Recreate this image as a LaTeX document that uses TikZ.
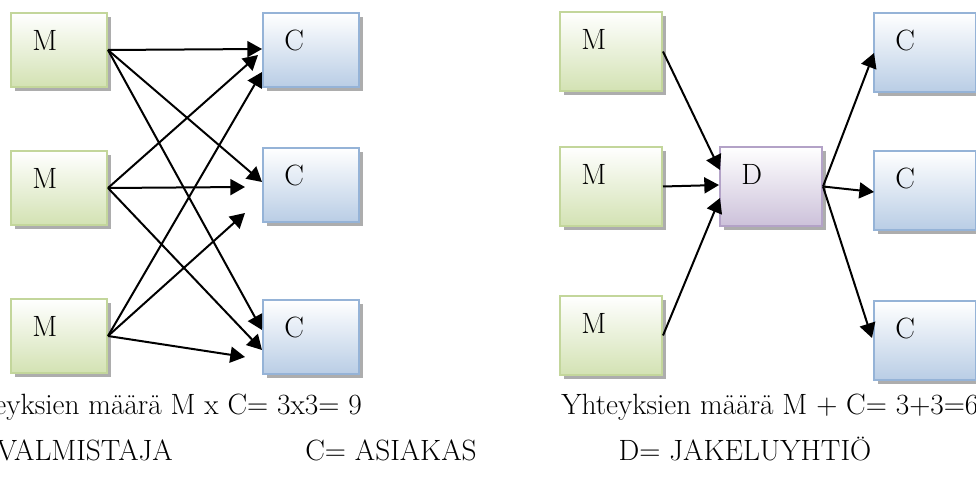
\documentclass[tikz,border=0pt]{standalone}
\usepackage{fontspec}
\usetikzlibrary{shadows,arrows.meta,calc}
\definecolor{grnB}{HTML}{C3D69B}
\definecolor{grnF}{HTML}{D3E2B3}
\definecolor{bluB}{HTML}{95B3D7}
\definecolor{bluF}{HTML}{B9CDE5}
\definecolor{purB}{HTML}{B3A2C7}
\definecolor{purF}{HTML}{CCC1DA}
\newcommand{\bigtxt}{\fontsize{22}{26}\selectfont}
\tikzset{
  box/.style={rectangle, anchor=north west, line width=1.5pt, align=left,
    inner xsep=16pt, inner ysep=3pt, text height=25.5pt, font=\bigtxt,
    drop shadow={shadow xshift=3pt, shadow yshift=-3pt, fill=black, opacity=0.32}},
  narrowbox/.style={text width=40pt, text depth=24pt},
  widebox/.style={text width=44.5pt, text depth=27.75pt},
  mbox/.style={box, draw=grnB, top color=white, bottom color=grnF},
  cbox/.style={box, draw=bluB, top color=white, bottom color=bluF},
  dbox/.style={box, draw=purB, top color=white, bottom color=purF},
  conn/.style={-{Triangle[length=11pt,width=12pt]}, line width=1.5pt, black},
  txt/.style={font=\bigtxt, inner sep=0pt}
}
\begin{document}
\begin{tikzpicture}[x=0.75pt, y=-0.75pt]
\useasboundingbox (0,0) rectangle (976,488);
\clip (0,0) rectangle (976,488);
% left diagram
\node[mbox, narrowbox] (lm1) at (10,12) {M};
\node[mbox, narrowbox] (lm2) at (10,150) {M};
\node[mbox, narrowbox] (lm3) at (10,298) {M};
\node[cbox, narrowbox] (lc1) at (262,12) {C};
\node[cbox, narrowbox] (lc2) at (262,147) {C};
\node[cbox, narrowbox] (lc3) at (262,299) {C};
\draw[conn] (lm1.east) -- ($(lc1.north west)+(0,37)$);
\draw[conn] (lm2.east) -- ($(lc1.north west)+(-4,43)$);
\draw[conn] (lm3.east) -- ($(lc1.north west)+(0,60)$);
\draw[conn] (lm1.east) -- ($(lc2.north west)+(0,35)$);
\draw[conn] (lm2.east) -- ($(lc2.north west)+(-17,40)$);
\draw[conn] (lm3.east) -- ($(lc2.north west)+(-17,66)$);
\draw[conn] (lm1.east) -- ($(lc3.north west)+(0,31)$);
\draw[conn] (lm2.east) -- ($(lc3.north west)+(0,51)$);
\draw[conn] (lm3.east) -- ($(lc3.north west)+(-17,58)$);
% right diagram
\node[mbox, widebox] (rm1) at (559,11) {M};
\node[mbox, widebox] (rm2) at (559,146) {M};
\node[mbox, widebox] (rm3) at (559,295) {M};
\node[dbox, widebox] (dd) at (719,146) {D};
\node[cbox, widebox] (rc1) at (873,12) {C};
\node[cbox, widebox] (rc2) at (873,150) {C};
\node[cbox, widebox] (rc3) at (873,300) {C};
\draw[conn] (rm1.east) -- ($(dd.north west)+(1,24)$);
\draw[conn] (rm2.east) -- ($(dd.north west)+(0,39)$);
\draw[conn] (rm3.east) -- ($(dd.north west)+(1,52)$);
\draw[conn] (dd.east) -- ($(rc1.north west)+(1,41)$);
\draw[conn] (dd.east) -- ($(rc2.north west)+(1,42)$);
\draw[conn] (dd.east) -- ($(rc3.north west)+(-1,38)$);
% texts
\node[txt, anchor=base east] (t1) at (362,415) {Yhteyksien määrä M x C= 3x3= 9};
\node[txt, anchor=base west] (t2) at (561,415) {Yhteyksien määrä M + C= 3+3=6};
\node[txt, anchor=base east] (t3) at (173,461) {M= VALMISTAJA};
\node[txt, anchor=base] (t4) at (391,461) {C= ASIAKAS};
\node[txt, anchor=base] (t5) at (745,461) {D= JAKELUYHTIÖ};
\end{tikzpicture}
\end{document}
